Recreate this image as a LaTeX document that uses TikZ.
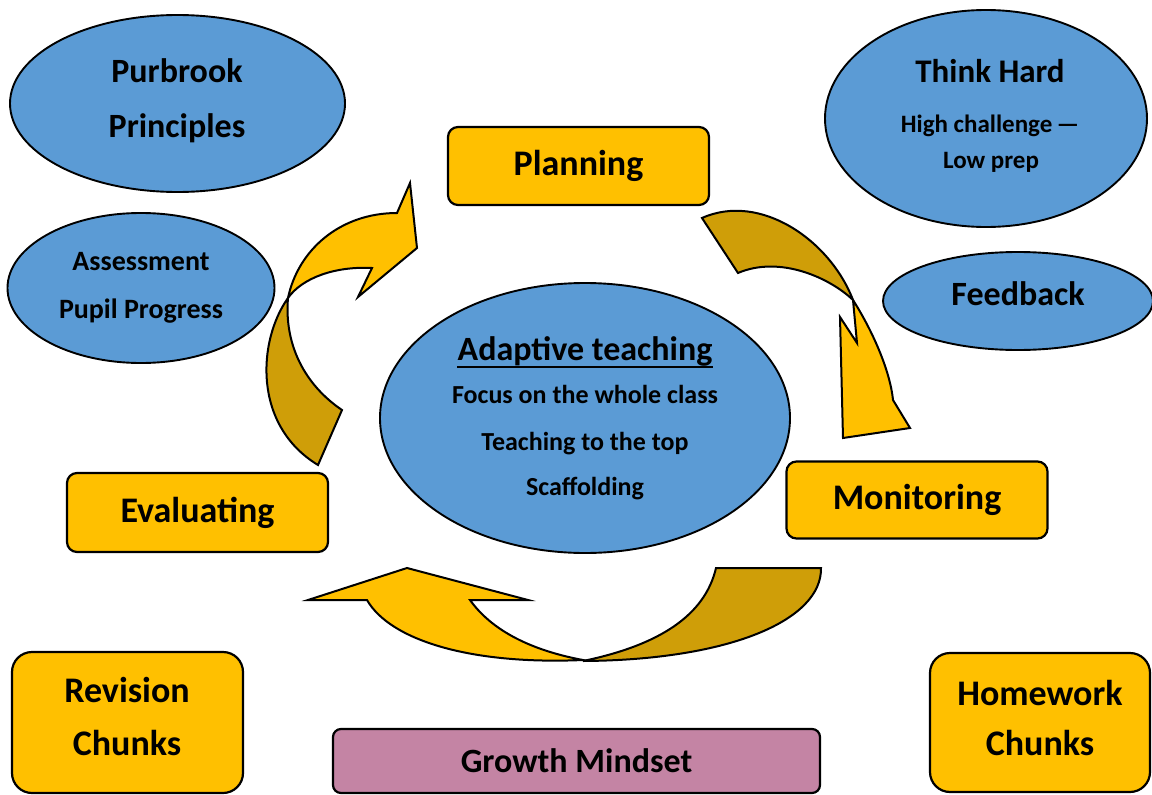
\documentclass[tikz,border=0pt]{standalone}
\usepackage{fontspec}
\setmainfont{Carlito}
\usetikzlibrary{shapes.geometric}
\definecolor{blobblue}{HTML}{5B9BD5}
\definecolor{tileamber}{HTML}{FFC000}
\definecolor{arrowgold}{HTML}{FFC000}
\definecolor{arrowshade}{HTML}{CF9E08}
\definecolor{mindmauve}{HTML}{C484A4}
\newcommand{\fsz}[1]{\fontsize{#1}{#1}\selectfont\bfseries}

\tikzset{
  blob/.style={ellipse, draw=black, line width=1.9pt, fill=blobblue, inner sep=0pt},
  tile/.style={rectangle, rounded corners=10pt, draw=black, line width=2.2pt, fill=tileamber, inner sep=0pt, font=\fsz{36}},
  words/.style={inner sep=0pt, anchor=base},
  band/.style={draw=black, line width=2pt},
}

\begin{document}
\begin{tikzpicture}[x=1pt,y=-1pt]
    \useasboundingbox (0,0) rectangle (1152,795);
    % cycle arrows (dark part is the twisted back of the band)
    \draw[band, fill=arrowshade](288,298) .. controls (258,340) and (252,425) .. (318,465)--(342,410) .. controls (305,385) and (284,345) .. (288,298)--cycle;
    \draw[band, fill=arrowgold](288,298) .. controls (298,250) and (340,213) .. (397,213)--(410,183)--(417,248)--(358,297)--(372,268) .. controls (335,266) and (302,278) .. (288,298)--cycle;
    \draw[band, fill=arrowshade](702,218) .. controls (760,192) and (830,240) .. (853,300) .. controls (830,278) and (780,255) .. (738,273)--cycle;
    \draw[band, fill=arrowgold](853,300) .. controls (872,330) and (890,370) .. (893,400)--(910,428)--(843,438)--(840,317)--(857,343)--cycle;
    \draw[band, fill=arrowshade](716,568)--(821,568) .. controls (822,620) and (730,660) .. (583,661) .. controls (660,645) and (705,615) .. (716,568)--cycle;
    \draw[band, fill=arrowgold](583,660) .. controls (470,665) and (390,640) .. (367,600)--(308,600)--(407,568)--(528,600)--(470,600) .. controls (495,635) and (540,652) .. (583,660)--cycle;

    % ellipses
    \node[blob, minimum width=335, minimum height=177](purbrook) at (177.5,103.5){};
    \node[blob, minimum width=322, minimum height=217](thinkhard) at (986,118.5){};
    \node[blob, minimum width=270, minimum height=98](feedback) at (1018,301){};
    \node[blob, minimum width=267, minimum height=150](assessment) at (141,288){};
    \node[blob, minimum width=410, minimum height=270](adaptive) at (585,418){};

    \node[words, font=\fsz{34}](purbrook1) at (177,82){Purbrook};
    \node[words, font=\fsz{34}](purbrook2) at (177,137){Principles};
    \node[words, font=\fsz{33}](think1) at (990,82){Think Hard};
    \node[words, font=\fsz{25}](think2) at (990,132){High challenge\,—};
    \node[words, font=\fsz{25}](think3) at (991,168){Low prep};
    \node[words, font=\fsz{34}](feed1) at (1018,305){Feedback};
    \node[words, font=\fsz{28}](assess1) at (141,270){Assessment};
    \node[words, font=\fsz{28}](assess2) at (141,318){Pupil Progress};
    \node[words, font=\fsz{34}](adapttitle) at (585,360){Adaptive teaching};
    \draw[line width=1.6pt]([yshift=-7pt]adapttitle.base west)--([yshift=-7pt]adapttitle.base east);
    \foreach \txt/\yy [count=\i] in {Focus on the whole class/403, Teaching to the top/450, Scaffolding/495}
        \node[words, font=\fsz{26}](adapt\i) at (585,\yy){\txt};

    % stages and extras
    \node[tile, minimum width=261, minimum height=78](planning) at (578.5,166){Planning};
    \node[tile, minimum width=261, minimum height=77](monitoring) at (917,500){Monitoring};
    \node[tile, minimum width=261, minimum height=79](evaluating) at (197.5,512.5){Evaluating};
    \node[tile, rounded corners=20pt, minimum width=231, minimum height=141](revision) at (127.5,722.5){};
    \node[tile, rounded corners=20pt, minimum width=220, minimum height=139](homework) at (1040,722.5){};
    \node[tile, rounded corners=8pt, fill=mindmauve, font=\fsz{34}, minimum width=487, minimum height=64](growth) at (576.5,761){Growth Mindset};

    \node[words, font=\fsz{36}](revision1) at (127,702){Revision};
    \node[words, font=\fsz{36}](revision2) at (127,755){Chunks};
    \node[words, font=\fsz{36}](homework1) at (1040,705){Homework};
    \node[words, font=\fsz{36}](homework2) at (1040,755){Chunks};
\end{tikzpicture}
\end{document}
